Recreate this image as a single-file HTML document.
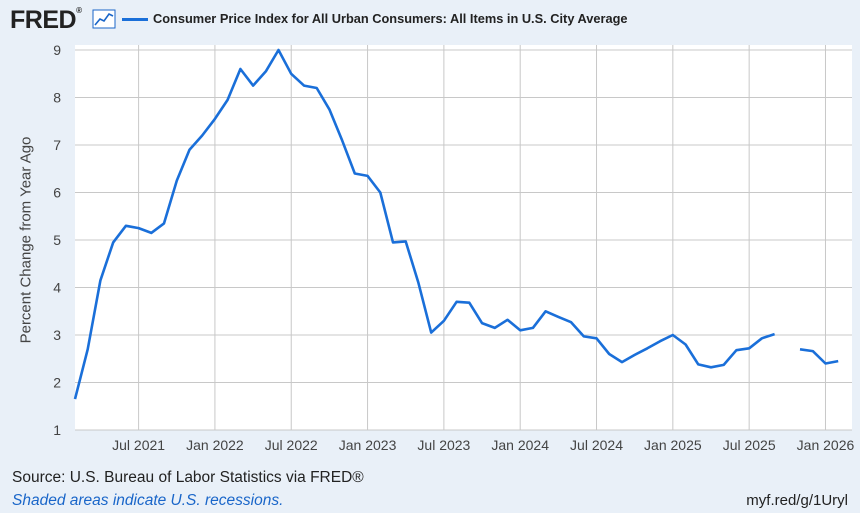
<!DOCTYPE html>
<html><head><meta charset="utf-8"><style>
body{margin:0;width:860px;height:513px;background:#e9f0f8;font-family:"Liberation Sans",sans-serif;overflow:hidden;position:relative}
.t{position:absolute;white-space:nowrap}
</style></head><body>
<div class="t" style="left:10px;top:6px;font-size:25px;font-weight:bold;color:#222;letter-spacing:-0.5px">FRED<span style="font-size:8px;vertical-align:top">®</span></div>
<svg class="t" style="left:92px;top:9px" width="24" height="20"><rect x="1" y="1" width="22" height="18" fill="#fff" stroke="#1a66c9"/><polyline points="3,16 8,10 12,12 17,5 21,7" fill="none" stroke="#1a66c9" stroke-width="1.6"/></svg>
<div class="t" style="left:122px;top:11px;font-size:12.8px;color:#222;font-weight:bold"><span style="display:inline-block;width:26px;height:3px;background:#1a6fd9;vertical-align:middle;margin-right:5px"></span>Consumer Price Index for All Urban Consumers: All Items in U.S. City Average</div>
<svg id="c" class="t" style="left:0;top:0" width="860" height="513"></svg>
<div class="t" style="left:26px;top:240px;font-size:15px;color:#444;transform:translate(-50%,-50%) rotate(-90deg)">Percent Change from Year Ago</div>
<div class="t" style="left:12px;top:469px;font-size:15.5px;color:#222">Source: U.S. Bureau of Labor Statistics via FRED®</div>
<div class="t" style="left:12px;top:492px;font-size:15.5px;color:#1a66c9;font-style:italic">Shaded areas indicate U.S. recessions.</div>
<div class="t" style="right:12px;top:492px;font-size:15px;color:#222">myf.red/g/1Uryl</div>
<script>
const yTicks=[1,2,3,4,5,6,7,8,9];
const xTickLabels=["Jul 2021","Jan 2022","Jul 2022","Jan 2023","Jul 2023","Jan 2024","Jul 2024","Jan 2025","Jul 2025","Jan 2026"];
const xTickMonths=[5,11,17,23,29,35,41,47,53,59];
const values=[1.65,2.7,4.15,4.95,5.3,5.25,5.15,5.35,6.25,6.9,7.2,7.55,7.95,8.6,8.25,8.55,9.0,8.5,8.25,8.2,7.75,7.1,6.4,6.35,6.0,4.95,4.97,4.1,3.05,3.3,3.7,3.68,3.25,3.15,3.32,3.1,3.15,3.5,3.38,3.27,2.97,2.93,2.6,2.43,2.58,2.72,2.87,3.0,2.8,2.38,2.32,2.37,2.68,2.72,2.93,3.02,null,2.7,2.66,2.4,2.45];
const L=75,R=852,T=45,B=430;
const x=m=>L+(m)*(12.72);
const y=v=>430-(v-1)*47.5;
const s=document.getElementById('c');const NS='http://www.w3.org/2000/svg';
function mk(t,a){const e=document.createElementNS(NS,t);for(const k in a)e.setAttribute(k,a[k]);s.appendChild(e);return e;}
const bg=mk('rect',{x:L,y:T,width:R-L,height:B-T,fill:'#fff'});


yTicks.forEach(v=>{
 const g=mk('line',{x1:L,x2:R,y1:y(v),y2:y(v),stroke:'#c8c8c8','stroke-width':1});
 
 
 const t=mk('text',{x:L-14,y:y(v)+5,'text-anchor':'end','font-size':14,fill:'#444','font-family':'Liberation Sans'});
 
 
 t.textContent=v;
});
xTickMonths.forEach((m,i)=>{
 const g=mk('line',{x1:x(m),x2:x(m),y1:T,y2:B,stroke:'#c8c8c8','stroke-width':1});
 
 
 const t=mk('text',{x:x(m),y:B+20,'text-anchor':'middle','font-size':14,fill:'#444','font-family':'Liberation Sans'});
 
 
 t.textContent=xTickLabels[i];
});
let segs=[],cur=[];
values.forEach((v,i)=>{if(v===null){if(cur.length)segs.push(cur);cur=[];}else cur.push(x(i).toFixed(1)+','+y(v).toFixed(1));});
if(cur.length)segs.push(cur);
segs.forEach(sg=>{
 const p=mk('polyline',{points:sg.join(' '),fill:'none',stroke:'#1a6fd9','stroke-width':2.6,'stroke-linejoin':'round'});
 
 
});
</script>
</body></html>
